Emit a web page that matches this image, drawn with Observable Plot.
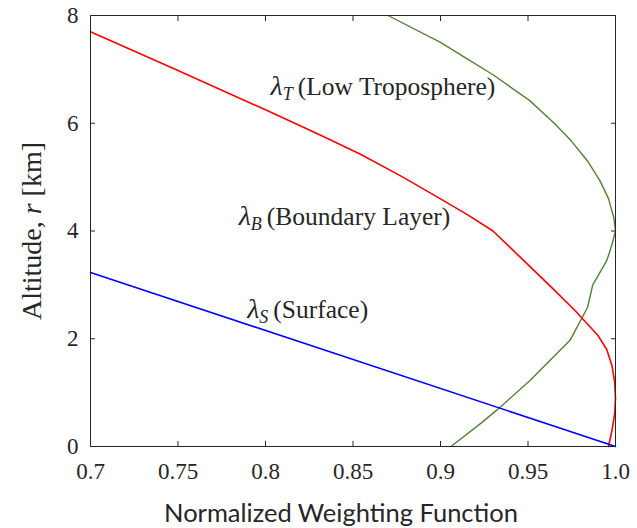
<!DOCTYPE html>
<html>
<head>
<meta charset="utf-8">
<script src="https://cdn.jsdelivr.net/npm/d3@7"></script>
<script src="https://cdn.jsdelivr.net/npm/@observablehq/plot@0.6"></script>
<style>
  html, body { margin: 0; padding: 0; background: #fff; }
  #chart { width: 637px; height: 528px; }
</style>
</head>
<body>
<div id="chart"></div>
<script>
// ---- Data ----
const xTicks = [0.7, 0.75, 0.8, 0.85, 0.9, 0.95, 1.0];
const xTickLabels = ["0.7", "0.75", "0.8", "0.85", "0.9", "0.95", "1.0"];
const yTicks = [0, 2, 4, 6, 8];
const yTickLabels = ["0", "2", "4", "6", "8"];

// Surface weighting function (blue)
const surfaceW = [1.0, 0.7];
const surfaceR = [0, 3.23];

// Boundary layer weighting function (red)
const boundaryW = [0.996, 0.998, 0.9995, 1.0, 0.9995, 0.998, 0.995, 0.990, 0.977, 0.962, 0.946, 0.930, 0.916, 0.902, 0.878, 0.854, 0.83, 0.8, 0.75, 0.7];
const boundaryR = [0, 0.3, 0.6, 0.9, 1.2, 1.5, 1.8, 2.06, 2.52, 3.0, 3.5, 4.0, 4.29, 4.56, 5.01, 5.43, 5.80, 6.25, 6.98, 7.70];

// Low troposphere weighting function (green)
const troposW = [0.906, 0.923, 0.932, 0.951, 0.974, 0.984, 0.987, 0.995, 0.998, 1.0, 0.999, 0.996, 0.991, 0.984, 0.974, 0.965, 0.951, 0.930, 0.915, 0.900, 0.870];
const troposR = [0, 0.43, 0.67, 1.22, 1.97, 2.58, 3.0, 3.45, 3.75, 4.0, 4.25, 4.6, 4.94, 5.3, 5.70, 6.0, 6.42, 6.9, 7.2, 7.5, 8.0];

// Curve annotations
const labelSub = ["T", "B", "S"];
const labelRest = ["(Low Troposphere)", "(Boundary Layer)", "(Surface)"];
const labelX = [0.8029, 0.7847, 0.7895];
const labelY = [6.53, 4.12, 2.39];

const xTitle = "Normalized Weighting Function";
const yTitleParts = ["Altitude, ", "r", " [km]"];

// ---- Build tables ----
const toRows = (xs, ys) => xs.map((x, i) => ({x, y: ys[i]}));
const surface = toRows(surfaceW, surfaceR);
const boundary = toRows(boundaryW, boundaryR);
const tropos = toRows(troposW, troposR);
const labels = labelSub.map((s, i) => ({x: labelX[i], y: labelY[i], text: "λ" + s + " " + labelRest[i]}));

const ink = "#262626";

const chart = Plot.plot({
  width: 637,
  height: 528,
  marginLeft: 90,
  marginRight: 22,
  marginTop: 15,
  marginBottom: 82,
  x: {domain: [0.7, 1.0]},
  y: {domain: [0, 8]},
  style: {fontFamily: "'Liberation Serif', serif", fontSize: "23px", color: ink, background: "#fff"},
  marks: [
    Plot.line(tropos, {x: "x", y: "y", stroke: "#548235", strokeWidth: 1.4}),
    Plot.line(boundary, {x: "x", y: "y", stroke: "#ff0000", strokeWidth: 1.6}),
    Plot.line(surface, {x: "x", y: "y", stroke: "#0000ff", strokeWidth: 1.6}),
    Plot.frame({stroke: ink, strokeWidth: 1}),
    Plot.axisX(xTicks, {anchor: "bottom", tickSize: -5, tickPadding: 21, tickFormat: (d, i) => xTickLabels[i], label: null, stroke: ink, fill: ink, fontSize: 23}),
    Plot.axisX(xTicks, {anchor: "top", tickSize: -5, tickFormat: () => "", label: null, stroke: ink}),
    Plot.axisY(yTicks, {anchor: "left", tickSize: -5, tickPadding: 17, tickFormat: (d, i) => yTickLabels[i], label: null, stroke: ink, fill: ink, fontSize: 23}),
    Plot.axisY(yTicks, {anchor: "right", tickSize: -5, tickFormat: () => "", label: null, stroke: ink}),
    Plot.text(labels, {x: "x", y: "y", text: "text", textAnchor: "start", lineAnchor: "bottom", fontSize: 25.5, fill: ink}),
    Plot.text([xTitle], {frameAnchor: "bottom", lineAnchor: "bottom", textAnchor: "middle", dy: 75, dx: -12, text: d => d, fontFamily: "Lato, sans-serif", fontSize: 25.5, fill: ink}),
    Plot.text([yTitleParts.join("")], {frameAnchor: "left", textAnchor: "middle", lineAnchor: "middle", dx: -58, rotate: -90, text: d => d, fontSize: 28, fill: ink})
  ]
});

document.getElementById("chart").appendChild(chart);

// Rich text: italic lambda with subscript, italic r
d3.select(chart).selectAll("text").each(function () {
  const t = d3.select(this);
  const s = t.text();
  const li = labels.findIndex(l => l.text === s);
  if (li >= 0) {
    t.text(null);
    t.append("tspan").attr("font-style", "italic").attr("font-size", 28).text("λ");
    t.append("tspan").attr("font-style", "italic").attr("font-size", 18).attr("dy", 5).text(labelSub[li]);
    t.append("tspan").attr("dy", -5).attr("dx", 5).text(labelRest[li]);
  } else if (s === yTitleParts.join("")) {
    t.text(null);
    t.append("tspan").text(yTitleParts[0]);
    t.append("tspan").attr("font-style", "italic").text(yTitleParts[1]);
    t.append("tspan").text(yTitleParts[2]);
  }
});
</script>
</body>
</html>
